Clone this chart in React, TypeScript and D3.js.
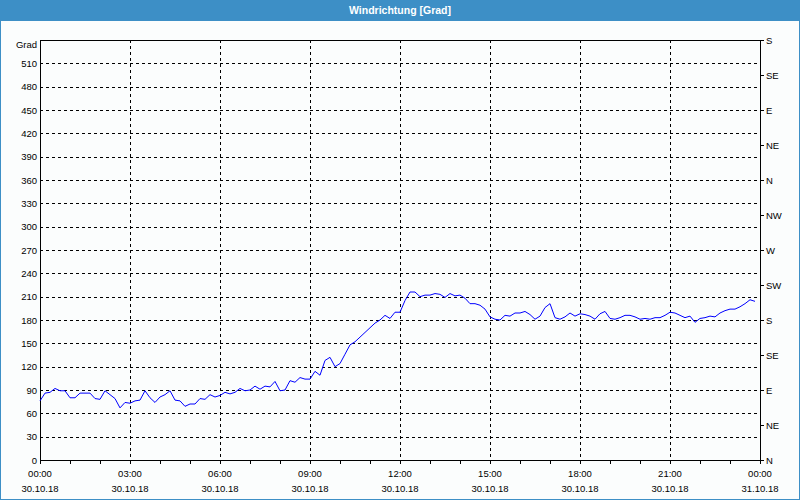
import React from "react";
import * as d3 from "d3";

const title = "Windrichtung [Grad]";
const unitLabel = "Grad";
const startTime = new Date(2018, 9, 30, 0, 0);
const endTime = new Date(2018, 9, 31, 0, 0);
const stepMinutes = 10;

// wind direction in degrees, one value every 10 minutes from 00:00
const values = [
  76, 86, 87, 92, 89, 89, 80, 80, 86, 86, 86, 79, 78, 89, 84, 79, 67, 74, 73, 76,
  77, 89, 80, 74, 81, 84, 89, 77, 76, 69, 72, 72, 79, 78, 84, 81, 83, 87, 85, 87,
  92, 89, 90, 95, 91, 95, 94, 101, 89, 90, 102, 100, 106, 104, 104, 114, 109, 128, 132, 120,
  124, 136, 148, 152, 158, 164, 170, 176, 180, 186, 182, 190, 190, 205, 216, 216, 210, 212, 212, 214,
  213, 209, 214, 211, 212, 208, 201, 201, 199, 194, 184, 181, 180, 186, 185, 189, 189, 191, 187, 181,
  185, 196, 201, 183, 181, 184, 189, 185, 188, 187, 185, 181, 188, 191, 182, 181, 183, 186, 186, 184,
  181, 182, 181, 183, 183, 186, 190, 189, 186, 183, 185, 177, 182, 183, 185, 184, 189, 192, 194, 194,
  197, 201, 206, 204,
];

const leftTicks = [0, 30, 60, 90, 120, 150, 180, 210, 240, 270, 300, 330, 360, 390, 420, 450, 480, 510];
const rightTickValues = [0, 45, 90, 135, 180, 225, 270, 315, 360, 405, 450, 495, 540];
const rightTickLabels = ["N", "NE", "E", "SE", "S", "SW", "W", "NW", "N", "NE", "E", "SE", "S"];
const timeLabels = ["00:00", "03:00", "06:00", "09:00", "12:00", "15:00", "18:00", "21:00", "00:00"];
const dateLabels = ["30.10.18", "30.10.18", "30.10.18", "30.10.18", "30.10.18", "30.10.18", "30.10.18", "30.10.18", "31.10.18"];

const W = 800;
const H = 500;
const L = 40;
const R = 760;
const T = 40;
const B = 460;
const blue = "#3d8fc6";
const font = "'Liberation Sans', Arial, sans-serif";

export default function App() {
  const x = d3.scaleTime().domain([startTime, endTime]).range([L, R]);
  const y = d3.scaleLinear().domain([0, 540]).range([B, T]);
  const data = values.map((v, i) => ({ t: new Date(startTime.getTime() + i * stepMinutes * 60000), v }));
  const line = d3
    .line<{ t: Date; v: number }>()
    .x((d) => x(d.t))
    .y((d) => y(d.v));
  const majorTimes = d3.timeHour.every(3)!.range(startTime, new Date(endTime.getTime() + 1));
  const hourTimes = d3.timeHour.range(startTime, new Date(endTime.getTime() + 1));
  const px = (v: number) => Math.round(v) + 0.5;

  return (
    <svg
      width={W}
      height={H}
      style={{ position: "absolute", left: 0, top: 0, display: "block" }}
      fontFamily={font}
    >
      <rect x={0} y={0} width={W} height={H} fill="#fbfdfd" />
      <rect x={0.5} y={0.5} width={W - 1} height={H - 1} fill="none" stroke={blue} />
      <rect x={0} y={0} width={W} height={21} fill={blue} />
      <text x={W / 2} y={14} textAnchor="middle" fill="#ffffff" fontSize={10.5} fontWeight="bold">
        {title}
      </text>

      {/* horizontal grid */}
      {leftTicks
        .filter((v) => v > 0)
        .map((v) => (
          <line
            key={"hg" + v}
            x1={L}
            x2={R}
            y1={px(y(v))}
            y2={px(y(v))}
            stroke="#000"
            strokeDasharray="3,3"
            shapeRendering="crispEdges"
          />
        ))}
      {/* vertical grid */}
      {majorTimes.slice(1, -1).map((t, i) => (
        <line
          key={"vg" + i}
          x1={px(x(t))}
          x2={px(x(t))}
          y1={T}
          y2={B}
          stroke="#000"
          strokeDasharray="3,3"
          shapeRendering="crispEdges"
        />
      ))}

      {/* frame */}
      <line x1={L} x2={R + 1} y1={T + 0.5} y2={T + 0.5} stroke="#000" shapeRendering="crispEdges" />
      <line x1={L} x2={R + 1} y1={B + 0.5} y2={B + 0.5} stroke="#000" shapeRendering="crispEdges" />
      <line x1={L + 0.5} x2={L + 0.5} y1={T} y2={B + 1} stroke="#000" shapeRendering="crispEdges" />
      <line x1={R + 0.5} x2={R + 0.5} y1={T} y2={B + 1} stroke="#000" shapeRendering="crispEdges" />

      {/* bottom hour ticks */}
      {hourTimes.map((t, i) => (
        <line
          key={"ht" + i}
          x1={px(x(t))}
          x2={px(x(t))}
          y1={B}
          y2={B + 4}
          stroke="#000"
          shapeRendering="crispEdges"
        />
      ))}

      {/* right ticks */}
      {rightTickValues.map((v) => (
        <line
          key={"rt" + v}
          x1={R}
          x2={R + 4}
          y1={px(y(v))}
          y2={px(y(v))}
          stroke="#000"
          shapeRendering="crispEdges"
        />
      ))}

      {/* left labels */}
      {leftTicks.map((v) => (
        <text key={"ll" + v} x={37} y={y(v) + 3.5} textAnchor="end" fontSize={9.5} fill="#000">
          {v}
        </text>
      ))}
      <text x={37} y={48} textAnchor="end" fontSize={9.5} fill="#000">
        {unitLabel}
      </text>

      {/* right labels */}
      {rightTickValues.map((v, i) => (
        <text key={"rl" + v} x={766} y={y(v) + 3.5} textAnchor="start" fontSize={9.5} fill="#000">
          {rightTickLabels[i]}
        </text>
      ))}

      {/* bottom labels */}
      {majorTimes.map((t, i) => (
        <g key={"bl" + i}>
          <text x={x(t)} y={477} textAnchor="middle" fontSize={9.5} fill="#000">
            {timeLabels[i]}
          </text>
          <text x={x(t)} y={492} textAnchor="middle" fontSize={9.5} fill="#000">
            {dateLabels[i]}
          </text>
        </g>
      ))}

      {/* data line */}
      <path d={line(data) || ""} fill="none" stroke="#0000ff" strokeWidth={1} />
    </svg>
  );
}
